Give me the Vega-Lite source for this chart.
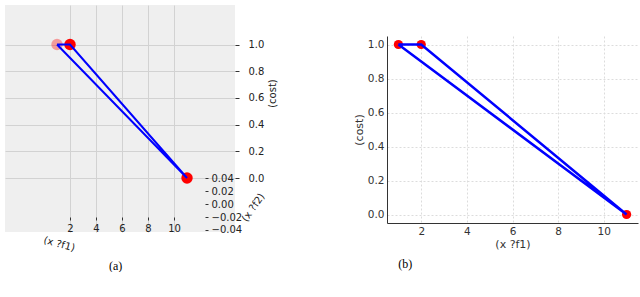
{
  "$schema": "https://vega.github.io/schema/vega-lite/v6.json",
  "padding": {"left": 5, "top": 5, "right": 2, "bottom": 0},
  "background": "white",
  "datasets": {
    "path": [
      {"f1": 1, "f2": 0, "cost": 1, "step": 1},
      {"f1": 2, "f2": 0, "cost": 1, "step": 2},
      {"f1": 11, "f2": 0, "cost": 0, "step": 3},
      {"f1": 1, "f2": 0, "cost": 1, "step": 4}
    ],
    "points": [
      {"f1": 1, "f2": 0, "cost": 1},
      {"f1": 2, "f2": 0, "cost": 1},
      {"f1": 11, "f2": 0, "cost": 0}
    ],
    "empty": []
  },
  "spacing": 76,
  "hconcat": [
    {
      "width": 230,
      "height": 227,
      "view": {"fill": "#efefef", "stroke": null},
      "title": {"text": "(a)", "orient": "bottom", "anchor": "start", "dx": 104, "font": "Liberation Serif", "fontSize": 12, "fontWeight": "normal", "color": "#000", "offset": 8},
      "layer": [
        {
          "data": {"name": "points"},
          "mark": {"type": "circle", "color": "red", "size": 130},
          "encoding": {
            "x": {"field": "f1", "type": "quantitative", "scale": {"domain": [-3, 14.69], "nice": false, "zero": false},
              "axis": {"orient": "bottom", "values": [2, 4, 6, 8, 10], "format": "d", "domain": false, "offset": -15, "tickSize": 3, "tickColor": "#333", "labelFontSize": 10, "labelColor": "#222", "labelPadding": 3, "grid": true, "gridColor": "#d2d2d2",
                "title": "(x ?f1)", "titleFontSize": 10, "titleColor": "#222", "titleAngle": 15, "titleX": 55, "titleY": 22}},
            "y": {"field": "cost", "type": "quantitative", "scale": {"domain": [-0.4045, 1.2959], "nice": false, "zero": false},
              "axis": {"orient": "right", "values": [0, 0.2, 0.4, 0.6, 0.8, 1], "format": ".1f", "labelOverlap": false, "domain": false, "tickSize": 4, "tickColor": "#333", "labelFontSize": 10, "labelColor": "#222", "labelPadding": 9, "grid": true, "gridColor": "#d2d2d2",
                "title": "(cost)", "titleFontSize": 10, "titleColor": "#222", "titleAngle": 270, "titleX": 42, "titleY": 88}},
            "opacity": {"condition": {"test": "datum.f1 == 1", "value": 0.35}, "value": 1}
          }
        },
        {
          "data": {"name": "path"},
          "mark": {"type": "line", "color": "blue", "strokeWidth": 2},
          "encoding": {
            "x": {"field": "f1", "type": "quantitative"},
            "y": {"field": "cost", "type": "quantitative", "scale": {"domain": [-0.4045, 1.2959], "nice": false, "zero": false}, "axis": null},
            "order": {"field": "step", "type": "quantitative"}
          }
        },
        {
          "data": {"name": "points"},
          "mark": {"type": "point", "opacity": 0},
          "encoding": {
            "x": {"field": "f1", "type": "quantitative"},
            "y": {"field": "f2", "type": "quantitative", "scale": {"domain": [-0.04308, 0.3062], "nice": false, "zero": false},
              "axis": {"orient": "right", "offset": -30, "values": [-0.04, -0.02, 0, 0.02, 0.04], "format": ".2f", "labelOverlap": false, "domain": false, "tickSize": 3, "tickColor": "#333", "labelFontSize": 10, "labelColor": "#222", "labelPadding": 3, "grid": false,
                "title": "(x ?f2)", "titleFontSize": 10, "titleColor": "#222", "titleAngle": 305, "titleX": 52, "titleY": 205}}
          }
        }
      ],
      "resolve": {"scale": {"y": "independent"}, "axis": {"y": "independent"}}
    },
    {
      "spacing": 20,
      "vconcat": [
        {
          "width": 251,
          "height": 11,
          "view": {"stroke": null},
          "data": {"name": "empty"},
          "mark": "point"
        },
        {
          "width": 251,
          "height": 187,
          "view": {"stroke": null},
          "title": {"text": "(b)", "orient": "bottom", "anchor": "start", "dx": 45, "font": "Liberation Serif", "fontSize": 12, "fontWeight": "normal", "color": "#000", "offset": 9},
          "layer": [
            {
              "data": {"name": "points"},
              "mark": {"type": "circle", "color": "red", "size": 85, "opacity": 1},
              "encoding": {
                "x": {"field": "f1", "type": "quantitative", "scale": {"domain": [0.5, 11.5], "nice": false, "zero": false},
                  "axis": {"values": [2, 4, 6, 8, 10], "format": "d", "labelOverlap": false, "domainColor": "#333", "ticks": false, "labelPadding": 3, "labelFontSize": 10.5, "labelColor": "#333", "grid": true, "gridColor": "#dcdcdc", "gridDash": [2, 2],
                    "title": "(x ?f1)", "titleFontSize": 11, "titleColor": "#333", "titlePadding": 2}},
                "y": {"field": "cost", "type": "quantitative", "scale": {"domain": [-0.05, 1.05], "nice": false, "zero": false},
                  "axis": {"values": [0, 0.2, 0.4, 0.6, 0.8, 1], "format": ".1f", "labelOverlap": false, "domainColor": "#333", "ticks": false, "labelPadding": 3, "labelFontSize": 10.5, "labelColor": "#333", "grid": true, "gridColor": "#dcdcdc", "gridDash": [2, 2],
                    "title": "(cost)", "titleFontSize": 11, "titleColor": "#333", "titlePadding": 3}}
              }
            },
            {
              "data": {"name": "path"},
              "mark": {"type": "line", "color": "blue", "strokeWidth": 2.5},
              "encoding": {
                "x": {"field": "f1", "type": "quantitative",
                  "axis": {"values": [2, 4, 6, 8, 10], "format": "d", "labelOverlap": false, "domainColor": "#333", "ticks": false, "labelPadding": 3, "labelFontSize": 10.5, "labelColor": "#333", "grid": true, "gridColor": "#dcdcdc", "gridDash": [2, 2],
                    "title": "(x ?f1)", "titleFontSize": 11, "titleColor": "#333", "titlePadding": 2}},
                "y": {"field": "cost", "type": "quantitative",
                  "axis": {"values": [0, 0.2, 0.4, 0.6, 0.8, 1], "format": ".1f", "labelOverlap": false, "domainColor": "#333", "ticks": false, "labelPadding": 3, "labelFontSize": 10.5, "labelColor": "#333", "grid": true, "gridColor": "#dcdcdc", "gridDash": [2, 2],
                    "title": "(cost)", "titleFontSize": 11, "titleColor": "#333", "titlePadding": 3}},
                "order": {"field": "step", "type": "quantitative"}
              }
            }
          ]
        }
      ]
    }
  ],
  "config": {
    "font": "DejaVu Sans",
    "axis": {"labelFont": "DejaVu Sans", "titleFont": "DejaVu Sans", "titleFontWeight": "normal"}
  }
}
